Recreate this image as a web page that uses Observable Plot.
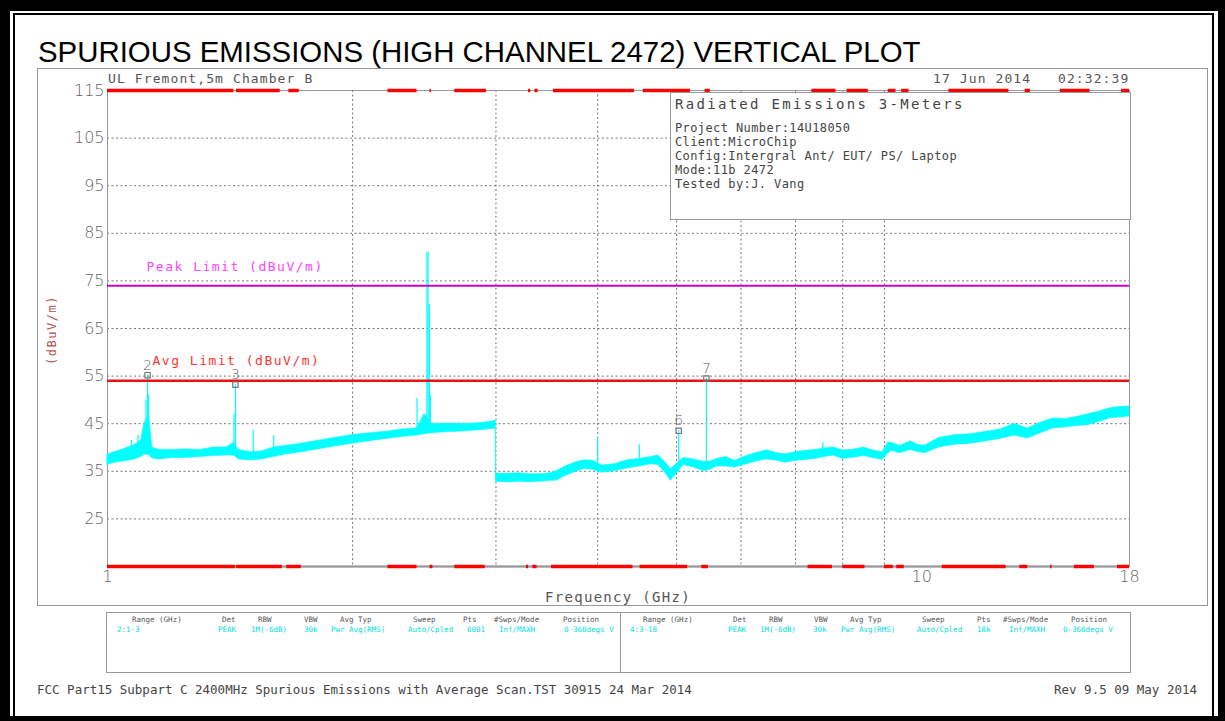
<!DOCTYPE html>
<html><head><meta charset="utf-8">
<script src="https://cdn.jsdelivr.net/npm/d3@7"></script>
<script src="https://cdn.jsdelivr.net/npm/@observablehq/plot@0.6"></script>
<style>
body{margin:0;background:#fff;}
#page{position:relative;width:1225px;height:721px;overflow:hidden;background:#fff;}
.t{position:absolute;white-space:pre;font-family:"DejaVu Sans Mono",monospace;color:#555;line-height:1;}
#page svg{position:absolute;left:0;top:0;}
#page svg text{font-weight:200;}
</style></head><body><div id="page"></div>
<script>
// ---------- data ----------
const titleText = "SPURIOUS EMISSIONS (HIGH CHANNEL 2472) VERTICAL PLOT";
const siteText = "UL Fremont,5m Chamber B";
const dateText = "17 Jun 2014   02:32:39";
const yLabelText = "(dBuV/m)";
const xLabelText = "Frequency (GHz)";
const infoTitle = "Radiated Emissions 3-Meters";
const infoLines = ["Project Number:14U18050","Client:MicroChip","Config:Intergral Ant/ EUT/ PS/ Laptop","Mode:11b 2472","Tested by:J. Vang"];
const footerLeft = "FCC Part15 Subpart C 2400MHz Spurious Emissions with Average Scan.TST 30915 24 Mar 2014";
const footerRight = "Rev 9.5 09 May 2014";
const tableHeaders = ["Range (GHz)","Det","RBW","VBW","Avg Typ","Sweep","Pts","#Swps/Mode","Position"];
const tableRow1 = ["2:1-3","PEAK","1M(-6dB)","30k","Pwr Avg(RMS)","Auto/Cpled","6001","Inf/MAXH","0-360degs V"];
const tableRow2 = ["4:3-18","PEAK","1M(-6dB)","30k","Pwr Avg(RMS)","Auto/Cpled","18k","Inf/MAXH","0-360degs V"];

const yTicks = [25,35,45,55,65,75,85,95,105,115];
const yGridLines = [25,35,45,55,65,75,85,95,105];
const xTicks = [1,10,18];
const xGridLines = [2,3,4,5,6,7,8,9];
const peakLimit = 74;
const avgLimit = 54;
const peakLimitLabel = "Peak Limit (dBuV/m)";
const avgLimitLabel = "Avg Limit (dBuV/m)";

// noise band of the trace (GHz, low dBuV/m, high dBuV/m)
const traceFreq = [1.00,1.02,1.04,1.06,1.08,1.10,1.11,1.125,1.135,1.16,1.20,1.25,1.30,1.35,1.40,1.43,1.45,1.50,1.55,1.60,1.65,1.70,1.80,1.90,2.00,2.10,2.20,2.30,2.40,2.45,2.50,2.60,2.70,2.80,2.90,2.999,
  3.0,3.1,3.2,3.3,3.4,3.5,3.56,3.65,3.75,3.85,3.95,4.05,4.2,4.35,4.5,4.65,4.75,4.85,4.92,5.0,5.1,5.25,5.4,5.5,5.6,5.75,5.9,6.05,6.25,6.45,6.65,6.8,7.0,7.2,7.4,7.6,7.8,8.0,8.2,8.5,8.7,8.95,9.1,9.2,9.4,9.7,9.9,10.1,10.5,11.0,11.5,12.0,12.5,13.0,13.5,14.0,14.5,15.0,15.5,16.0,16.5,17.0,17.5,18.0];
const traceLow = [36.3,36.8,37.0,37.2,37.5,38.0,38.5,38.5,37.7,37.5,37.8,37.8,38.0,38.2,38.3,38.3,37.5,37.3,37.5,38.0,38.5,38.8,39.5,40.2,40.8,41.3,41.8,42.2,42.5,42.8,43.0,43.2,43.3,43.5,43.7,44.0,
  32.8,32.7,32.8,32.7,32.8,33.0,33.0,34.0,34.8,35.5,35.3,34.7,35.0,35.6,36.0,36.5,36.3,34.5,33.0,34.5,36.3,35.8,35.0,35.3,36.0,36.0,35.8,36.3,37.0,37.5,37.2,36.8,37.2,37.4,37.6,38.0,38.3,37.6,37.8,38.2,37.8,37.4,38.8,39.3,38.8,39.5,39.0,38.8,40.0,40.6,40.8,41.3,41.8,42.5,41.9,43.0,44.0,44.2,44.5,44.7,45.3,46.1,46.3,46.5];
const traceHigh = [38.5,39.0,39.5,40.0,40.5,41.5,45.0,47.0,40.0,39.5,39.5,39.6,39.5,40.0,40.0,41.0,39.5,39.0,39.2,40.0,40.3,40.6,41.3,42.0,42.6,43.0,43.3,43.8,44.0,47.0,45.0,45.0,45.0,45.0,45.2,45.6,
  34.5,34.5,34.6,34.4,34.4,34.6,35.0,36.0,36.8,37.3,37.2,36.2,36.5,37.3,37.6,38.0,38.3,36.8,35.5,36.5,37.8,37.5,37.0,37.0,37.6,38.0,37.2,38.0,38.8,39.4,38.8,38.6,39.0,39.3,39.5,39.8,40.0,39.4,39.5,40.0,39.4,39.0,41.0,41.0,40.3,41.3,40.5,40.4,42.0,42.6,42.8,43.3,43.8,45.0,44.0,45.2,46.1,46.0,46.4,47.0,47.5,48.2,48.5,48.6];

// narrow emissions (GHz, from dBuV/m, to dBuV/m)
const spikeFreq = [1.07,1.09,1.115,1.12,1.123,1.43,1.436,1.51,1.60,2.40,2.462,2.468,2.476,2.485,2.492,4.0,4.5,5.03,5.44,7.56];
const spikeBase = [38,38,38.5,38.5,38.5,38.5,38.5,38,38.5,43,43,43,43,43,43,35.5,36.5,35,35.5,38.5];
const spikeTop  = [41.5,42.5,50,55.2,51,47,53.2,43.6,42.5,50.3,47,81,81,70,51,42,40.6,43.5,54.5,41];

// markers
const markerIds = ["2","3","6","7"];
const markerFreq = [1.12,1.436,5.03,5.44];
const markerLevel = [55.2,53.2,43.5,54.5];

// red band segments along top and bottom edges (GHz)
const topSegStart = [1.0,1.44,1.67,2.21,2.49,2.67,3.29,3.35,3.53,4.55,5.42,7.33,8.1,9.1,9.45,10.8,13.4,14.8,17.6];
const topSegEnd   = [1.43,1.63,1.72,2.40,2.50,2.92,3.31,3.38,4.44,5.2,5.5,7.85,8.6,9.3,9.65,12.8,13.6,16.1,18.0];
const botSegStart = [1.0,1.44,1.66,2.21,2.49,2.67,3.27,3.33,3.51,4.51,5.37,7.25,8.0,9.0,9.32,10.6,13.2,14.4,15.4,17.4];
const botSegEnd   = [1.436,1.64,1.73,2.40,2.51,2.91,3.29,3.37,4.42,5.16,5.47,7.77,8.52,9.23,9.52,12.7,13.5,14.46,16.3,18.0];

// ---------- build ----------
const page = document.getElementById("page");
const trace = traceFreq.map((f,i)=>({f, lo:traceLow[i], hi:traceHigh[i]}));
const spikes = spikeFreq.map((f,i)=>({f, base:spikeBase[i], top:spikeTop[i]}));
const markers = markerIds.map((id,i)=>({id, f:markerFreq[i], v:markerLevel[i]}));
const topSegs = topSegStart.map((a,i)=>({a, b:topSegEnd[i]}));
const botSegs = botSegStart.map((a,i)=>({a, b:botSegEnd[i]}));
const yMax = yTicks[yTicks.length-1], yMin = 15;

const svg = Plot.plot({
  width:1225, height:721,
  marginLeft:107, marginRight:96, marginTop:90, marginBottom:155,
  style:{fontFamily:'"DejaVu Sans", sans-serif', fontSize:"16px", color:"#666", background:"transparent", overflow:"visible"},
  x:{type:"log", domain:[1,18], ticks:xTicks, tickFormat:d=>String(d), tickSize:0, tickPadding:4, label:null},
  y:{domain:[yMin,yMax], ticks:yTicks, tickSize:0, tickPadding:3, label:null},
  marks:[
    Plot.ruleY(yGridLines,{stroke:"#777", strokeDasharray:"2,2.5", strokeWidth:1}),
    Plot.ruleX(xGridLines,{stroke:"#777", strokeDasharray:"2,2.5", strokeWidth:1}),
    Plot.ruleY([yMin],{stroke:"#bbb", strokeWidth:3}),
    Plot.frame({stroke:"#999"}),
    Plot.areaY(trace,{x:"f", y1:"lo", y2:"hi", fill:"#00ffff", stroke:"#00ffff", strokeWidth:0.6}),
    Plot.ruleX(spikes,{x:"f", y1:"base", y2:"top", stroke:"#00ffff", strokeWidth:1.2}),
    Plot.ruleY([peakLimit],{stroke:"#cc00cc", strokeWidth:2}),
    Plot.ruleY([avgLimit],{stroke:"#ee1111", strokeWidth:2.5}),
    Plot.ruleY(topSegs,{y:()=>yMax, x1:"a", x2:"b", stroke:"#ff0000", strokeWidth:3.5}),
    Plot.ruleY(botSegs,{y:()=>yMin, x1:"a", x2:"b", stroke:"#ff0000", strokeWidth:3.5}),
    Plot.text([peakLimit],{y:d=>d, frameAnchor:"left", dx:39, dy:-19, text:()=>peakLimitLabel, textAnchor:"start", fill:"#ff44ff", fontFamily:"DejaVu Sans Mono", fontSize:13}),
    Plot.text([avgLimit],{y:d=>d, frameAnchor:"left", dx:45, dy:-20, text:()=>avgLimitLabel, textAnchor:"start", fill:"#ff3333", fontFamily:"DejaVu Sans Mono", fontSize:13}),
    Plot.dot(markers,{x:"f", y:"v", symbol:"square", r:3, stroke:"#777", fill:"none", strokeWidth:1.2}),
    Plot.text(markers,{x:"f", y:"v", text:"id", dy:-10, fill:"#666", fontSize:14})
  ]
});
page.appendChild(svg);
d3.select(svg).selectAll("text").each(function(){
  const s = this.textContent;
  if (s === peakLimitLabel || s === avgLimitLabel) this.setAttribute("letter-spacing","1.5px");
});

// ---------- frames ----------
function box(x,y,w,h,css){const d=document.createElement("div");d.style.cssText=`position:absolute;left:${x}px;top:${y}px;width:${w}px;height:${h}px;box-sizing:border-box;${css}`;page.appendChild(d);return d;}
box(0,0,1225,721,"border-style:solid;border-color:#000;border-width:11px 7px 5px 10px;");
box(13,13,1201,705,"border:2px solid #000;border-bottom:none;");
box(37,68,1171,538,"border:1px solid #999;");
box(670,92,461,128,"border:1px solid #999;background:#fff;");
box(106,612,1025,61,"border:1px solid #999;");
box(620,612,1,61,"background:#999;");

function txt(s,x,y,css){const d=document.createElement("div");d.className="t";d.textContent=s;d.style.cssText+=`left:${x}px;top:${y}px;${css||""}`;page.appendChild(d);return d;}

txt(titleText,38,37,'font-family:"Liberation Sans",Arial,sans-serif;font-size:29.4px;color:#000;');
txt(siteText,108,72,"font-size:13px;letter-spacing:1.1px;");
const dt = txt(dateText,0,72,"font-size:13px;letter-spacing:1.1px;");
dt.style.left = (1129 - dt.offsetWidth)+"px";
const yl = txt(yLabelText,0,0,"font-size:12px;letter-spacing:1.5px;color:#b05050;");
yl.style.left = (52 - yl.offsetWidth/2)+"px"; yl.style.top = (330 - yl.offsetHeight/2)+"px"; yl.style.transform="rotate(-90deg)";
const xl = txt(xLabelText,0,590,"font-size:14px;letter-spacing:1.3px;");
xl.style.left = (618 - xl.offsetWidth/2)+"px";

txt(infoTitle,675,97,"font-size:14px;letter-spacing:2.3px;color:#444;");
infoLines.forEach((s,i)=>txt(s,675,122+i*14,"font-size:12px;letter-spacing:0.4px;color:#444;"));

const hdrL = [132,222,258,304,340,413,463,494,563];
const rowL = [117,218,251,304,331,408,467,499,564];
const hdrR = [643,733,769,814,850,922,977,1003,1071];
const rowR = [630,728,760,813,841,917,977,1009,1063];
tableHeaders.forEach((s,i)=>{txt(s,hdrL[i],616,"font-size:7.5px;color:#555;");txt(s,hdrR[i],616,"font-size:7.5px;color:#555;");});
tableRow1.forEach((s,i)=>txt(s,rowL[i],626,"font-size:7.5px;color:#00dede;"));
tableRow2.forEach((s,i)=>txt(s,rowR[i],626,"font-size:7.5px;color:#00dede;"));

txt(footerLeft,37,684,"font-size:12.5px;color:#444;");
const fr = txt(footerRight,0,684,"font-size:12.5px;color:#444;");
fr.style.left = (1197 - fr.offsetWidth)+"px";
</script></body></html>
